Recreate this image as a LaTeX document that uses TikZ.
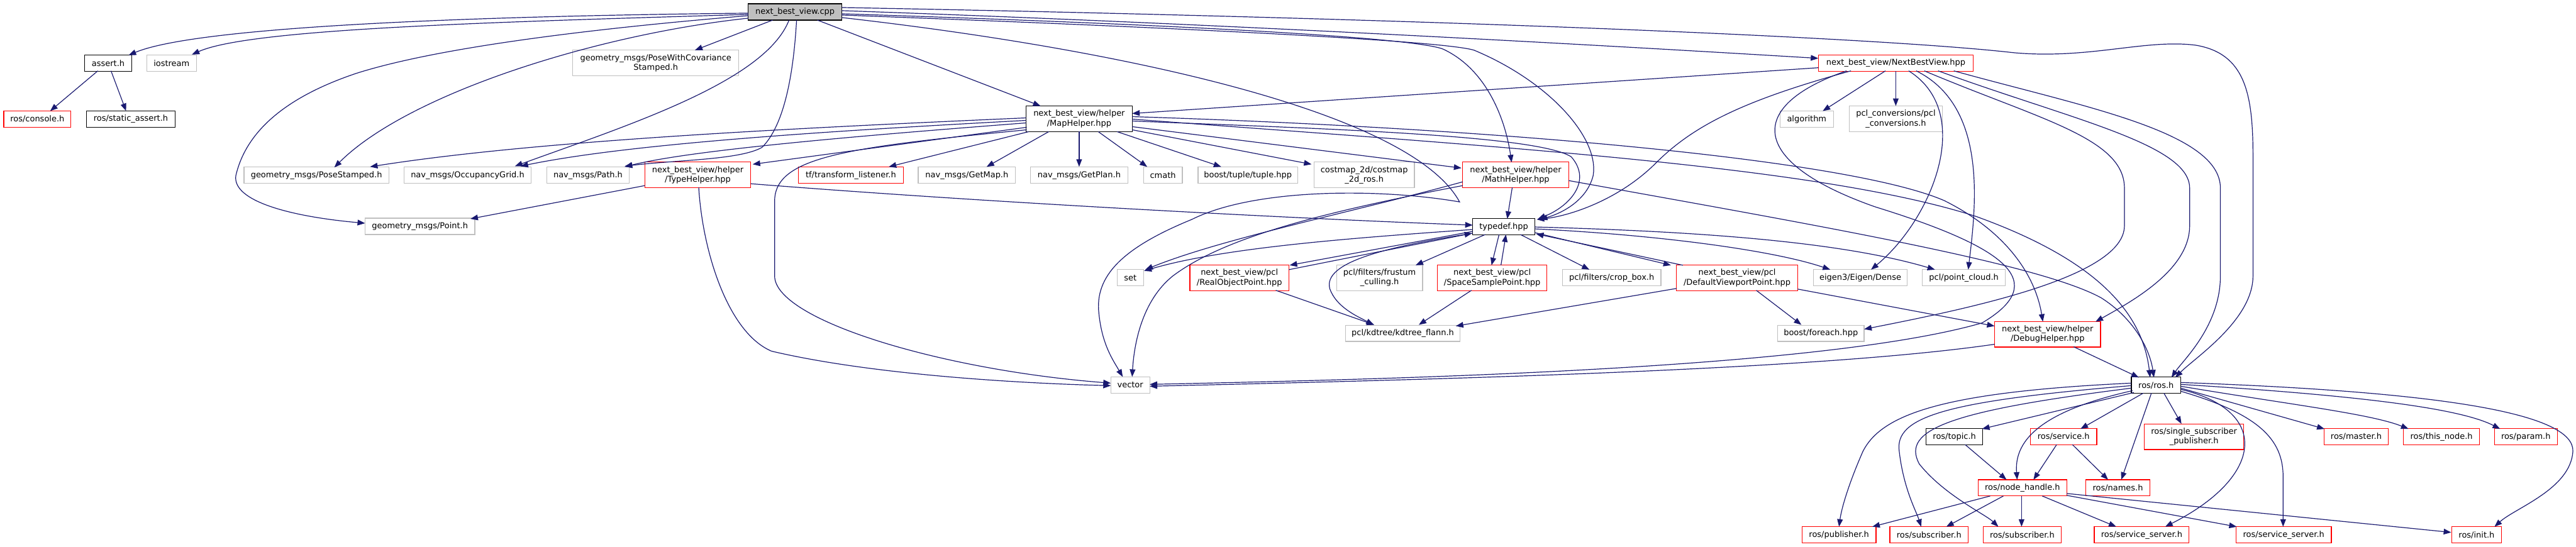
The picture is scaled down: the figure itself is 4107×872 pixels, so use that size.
\documentclass[tikz,border=0pt]{standalone}
\usepackage{fontspec}
\setmainfont{DejaVu Sans}
\usetikzlibrary{arrows.meta,calc}
\definecolor{edgec}{HTML}{191970}
\definecolor{grayb}{HTML}{BFBFBF}
\definecolor{redb}{HTML}{FF0000}
\definecolor{rootfill}{HTML}{BFBFBF}
\newcommand\nodefont{\fontsize{13}{15.3}\selectfont}
\tikzset{
  box/.style={draw, line width=1.2pt, inner sep=0pt, minimum height=26pt, font=\nodefont, align=center, fill=white},
  gbox/.style={box, draw=grayb},
  rbox/.style={box, draw=redb},
  kbox/.style={box, draw=black},
  rootbox/.style={box, draw=black, fill=rootfill},
  two/.style={minimum height=41pt},
  e/.style={draw=edgec, line width=1.2pt, -{Triangle[length=12pt,width=9pt]}},
}
\begin{document}
\begin{tikzpicture}[x=1pt,y=-1pt]
\useasboundingbox (0,0) rectangle (4107,872);
% nodes
\node[rootbox, minimum width=149pt] (root) at (1267.5,19) {next\_best\_view.cpp};
\node[kbox, minimum width=75pt] (assert) at (172.5,100.5) {assert.h};
\node[gbox, minimum width=79pt] (iostream) at (273.5,100.5) {iostream};
\node[gbox, two, minimum width=265pt] (pwc) at (1045.5,100.5) {geometry\_msgs/PoseWithCovariance\\Stamped.h};
\node[rbox, minimum width=107pt] (console) at (59.5,190) {ros/console.h};
\node[kbox, minimum width=141pt] (sassert) at (208.5,190) {ros/static\_assert.h};
\node[gbox, minimum width=231pt] (posest) at (504.5,279.5) {geometry\_msgs/PoseStamped.h};
\node[gbox, minimum width=203pt] (occ) at (745.5,279.5) {nav\_msgs/OccupancyGrid.h};
\node[gbox, minimum width=131pt] (path) at (937.5,279.5) {nav\_msgs/Path.h};
\node[rbox, two, minimum width=169pt] (typeh) at (1112.5,279) {next\_best\_view/helper\\/TypeHelper.hpp};
\node[rbox, minimum width=167pt] (tfl) at (1356.5,279.5) {tf/transform\_listener.h};
\node[gbox, minimum width=155pt] (getmap) at (1541.5,279.5) {nav\_msgs/GetMap.h};
\node[gbox, minimum width=155pt] (getplan) at (1720.5,279.5) {nav\_msgs/GetPlan.h};
\node[gbox, minimum width=62pt] (cmath) at (1854,279.5) {cmath};
\node[gbox, minimum width=159pt] (tuple) at (1989.5,279.5) {boost/tuple/tuple.hpp};
\node[gbox, two, minimum width=160pt] (costmap) at (2175,279) {costmap\_2d/costmap\\\_2d\_ros.h};
\node[rbox, two, minimum width=169pt] (mathh) at (2416.5,279) {next\_best\_view/helper\\/MathHelper.hpp};
\node[gbox, minimum width=175pt] (point) at (669.5,361) {geometry\_msgs/Point.h};
\node[kbox, two, minimum width=169pt] (maph) at (1720.5,189.5) {next\_best\_view/helper\\/MapHelper.hpp};
\node[rbox, minimum width=247pt] (nbv) at (3022.5,100.5) {next\_best\_view/NextBestView.hpp};
\node[gbox, minimum width=85pt] (algo) at (2880.5,190) {algorithm};
\node[gbox, two, minimum width=149pt] (pclconv) at (3022.5,189.5) {pcl\_conversions/pcl\\\_conversions.h};
\node[kbox, minimum width=99pt] (typedef) at (2397.5,361.5) {typedef.hpp};
\node[gbox, minimum width=42pt] (set) at (1802,443) {set};
\node[rbox, two, minimum width=158pt] (rop) at (1976,443) {next\_best\_view/pcl\\/RealObjectPoint.hpp};
\node[gbox, two, minimum width=137pt] (frustum) at (2199.5,443) {pcl/filters/frustum\\\_culling.h};
\node[rbox, two, minimum width=174pt] (ssp) at (2379,443) {next\_best\_view/pcl\\/SpaceSamplePoint.hpp};
\node[gbox, minimum width=157pt] (crop) at (2569.5,443) {pcl/filters/crop\_box.h};
\node[rbox, two, minimum width=193pt] (dvp) at (2769.5,443) {next\_best\_view/pcl\\/DefaultViewportPoint.hpp};
\node[gbox, minimum width=150pt] (eigen) at (2966,443) {eigen3/Eigen/Dense};
\node[gbox, minimum width=132pt] (pcloud) at (3131,443) {pcl/point\_cloud.h};
\node[gbox, minimum width=183pt] (kdtree) at (2236.5,531.5) {pcl/kdtree/kdtree\_flann.h};
\node[gbox, minimum width=138pt] (foreach) at (2903,531.5) {boost/foreach.hpp};
\node[rbox, two, minimum width=169pt] (debugh) at (3264.5,533) {next\_best\_view/helper\\/DebugHelper.hpp};
\node[kbox, minimum width=79pt] (ros) at (3437.5,614.5) {ros/ros.h};
\node[gbox, minimum width=62pt] (vector) at (1802,614) {vector};
\node[kbox, minimum width=90pt] (topic) at (3116,696.5) {ros/topic.h};
\node[rbox, minimum width=106pt] (service) at (3290,696.5) {ros/service.h};
\node[rbox, two, minimum width=158pt] (ssub) at (3498,696.5) {ros/single\_subscriber\\\_publisher.h};
\node[rbox, minimum width=103pt] (master) at (3756.5,696.5) {ros/master.h};
\node[rbox, minimum width=121pt] (thisnode) at (3892.5,696.5) {ros/this\_node.h};
\node[rbox, minimum width=100pt] (param) at (4027,696.5) {ros/param.h};
\node[rbox, minimum width=141pt] (nh) at (3224.5,778) {ros/node\_handle.h};
\node[rbox, minimum width=103pt] (names) at (3376.5,778) {ros/names.h};
\node[rbox, minimum width=118pt] (pub) at (2932,853) {ros/publisher.h};
\node[rbox, minimum width=125pt] (sub1) at (3075.5,853) {ros/subscriber.h};
\node[rbox, minimum width=124pt] (sub2) at (3224,853) {ros/subscriber.h};
\node[rbox, minimum width=151pt] (ss1) at (3414.5,853) {ros/service\_server.h};
\node[rbox, minimum width=152pt] (ss2) at (3641,853) {ros/service\_server.h};
\node[rbox, minimum width=79pt] (init) at (3948.5,853) {ros/init.h};

% root edges
\draw[e] ($(root)+(-74.5,2)$) .. controls (800,25) and (320,40) .. ($(assert)+(32.5,-12.5)$);
\draw[e] ($(root)+(-74.5,4)$) .. controls (800,35) and (400,45) .. ($(iostream)+(32.5,-13.5)$);
\draw[e] ($(root)+(-35.5,13)$) -- ($(pwc)+(62.5,-20.5)$);
\draw[e] ($(root)+(-74.5,6)$) .. controls (950,45) and (700,75) .. (568,117) .. controls (440,160) and (390,220) .. (376,280) .. controls (370,320) and (460,345) .. ($(point)+(-87.5,-5)$);
\draw[e] ($(root)+(-74.5,10)$) .. controls (950,55) and (650,150) .. ($(posest)+(28.5,-12.5)$);
\draw[e] ($(root)+(-9.5,13)$) .. controls (1220,130) and (1000,200) .. ($(occ)+(75.5,-14.5)$);
\draw[e] ($(root)+(2.5,13)$) .. controls (1265,120) and (1250,200) .. (1215,235) .. controls (1180,255) and (1080,255) .. ($(path)+(58.5,-14.5)$);
\draw[e] ($(root)+(35.5,13)$) -- ($(maph)+(-61.5,-20.5)$);
\draw[e] ($(root)+(74.5,3)$) .. controls (1900,40) and (2250,60) .. (2300,78) .. controls (2370,110) and (2400,190) .. ($(mathh)+(-6.5,-20)$);
\draw[e] ($(root)+(74.5,5)$) .. controls (1900,45) and (2300,65) .. (2350,80) .. controls (2470,130) and (2550,220) .. (2540,280) .. controls (2530,320) and (2490,340) .. ($(typedef)+(57.5,-11.5)$);
\draw[e] ($(root)+(74.5,-2)$) .. controls (2000,40) and (2600,75) .. ($(nbv)+(-123.5,-7.5)$);
\draw[e] ($(root)+(74.5,-7)$) .. controls (2300,30) and (3000,60) .. (3210,84) .. controls (3330,95) and (3420,62) .. (3500,72) .. controls (3580,85) and (3592,150) .. (3592,250) -- (3592,440) .. controls (3592,510) and (3500,570) .. ($(ros)+(30.5,-12.5)$);
\draw[e] ($(root)+(74.5,9)$) .. controls (1800,80) and (2250,180) .. (2327,322) .. controls (2200,300) and (2000,300) .. (1900,350) .. controls (1790,395) and (1745,440) .. (1752,500) .. controls (1757,550) and (1775,575) .. ($(vector)+(-12,-13)$);

% assert
\draw[e] ($(assert)+(-16.5,12.5)$) -- ($(console)+(20.5,-13)$);
\draw[e] ($(assert)+(4.5,12.5)$) -- ($(sassert)+(-7.5,-13)$);

% MapHelper edges
\draw[e] ($(maph)+(-84.5,-1.5)$) .. controls (1250,205) and (850,225) .. ($(posest)+(85.5,-13.5)$);
\draw[e] ($(maph)+(-84.5,2.5)$) .. controls (1300,210) and (1000,230) .. ($(occ)+(84.5,-14.5)$);
\draw[e] ($(maph)+(-84.5,6.5)$) .. controls (1350,218) and (1100,240) .. ($(path)+(58.5,-13.5)$);
\draw[e] ($(maph)+(-83.5,13.5)$) -- ($(typeh)+(87.5,-17)$);
\draw[e] ($(maph)+(-83.5,17.5)$) .. controls (1350,235) and (1236,250) .. (1235,320) -- (1235,440) .. controls (1235,510) and (1500,590) .. ($(vector)+(-31,-3)$);
\draw[e] ($(maph)+(-80.5,20.5)$) -- ($(tfl)+(60.5,-13.5)$);
\draw[e] ($(maph)+(-48.5,20.5)$) -- ($(getmap)+(31.5,-13.5)$);
\draw[e] ($(maph)+(0,20.5)$) -- ($(getplan)+(0,-13.5)$);
\draw[e] ($(maph)+(30.5,20.5)$) -- ($(cmath)+(-25,-13.5)$);
\draw[e] ($(maph)+(60.5,20.5)$) -- ($(tuple)+(-42.5,-13.5)$);
\draw[e] ($(maph)+(84.5,17.5)$) -- ($(costmap)+(-84,-17)$);
\draw[e] ($(maph)+(84.5,12.5)$) -- ($(mathh)+(-86.5,-11)$);
\draw[e] ($(maph)+(84.5,3.5)$) .. controls (2100,205) and (2450,215) .. (2505,250) .. controls (2540,290) and (2500,330) .. ($(typedef)+(54.5,-12.5)$);
\draw[e] ($(maph)+(84.5,-3.5)$) .. controls (2400,205) and (2950,255) .. (3100,320) .. controls (3200,370) and (3245,440) .. ($(debugh)+(-7.5,-20)$);
\draw[e] ($(maph)+(84.5,0.5)$) .. controls (2400,235) and (2900,265) .. (3150,345) .. controls (3330,410) and (3415,490) .. ($(ros)+(-9.5,-12.5)$);

% TypeHelper edges
\draw[e] ($(typeh)+(-84.5,17)$) -- ($(point)+(80.5,-12)$);
\draw[e] ($(typeh)+(84.5,14)$) .. controls (1600,325) and (2100,350) .. ($(typedef)+(-49.5,-2.5)$);
\draw[e] ($(typeh)+(1.5,20)$) .. controls (1120,400) and (1160,530) .. (1230,560) .. controls (1400,600) and (1650,612) .. ($(vector)+(-31,1)$);

% MathHelper edges
\draw[e] ($(mathh)+(-5.5,20)$) -- ($(typedef)+(5.5,-12.5)$);
\draw[e] ($(mathh)+(-84.5,11)$) .. controls (2150,340) and (1950,380) .. ($(set)+(24,-13)$);
\draw[e] ($(mathh)+(-84.5,17)$) .. controls (2100,340) and (1950,380) .. (1870,440) .. controls (1820,480) and (1808,550) .. ($(vector)+(3,-13)$);
\draw[e] ($(mathh)+(84.5,9)$) .. controls (2900,360) and (3250,420) .. (3350,475) .. controls (3405,510) and (3428,560) .. ($(ros)+(-3.5,-12.5)$);

% typedef edges
\draw[e] ($(typedef)+(-49.5,4.5)$) .. controls (2150,380) and (1950,395) .. ($(set)+(22,-11)$);
\draw[e] ($(typedef)+(-49.5,7.5)$) -- ($(rop)+(80,-20)$);
\draw[e] ($(rop)+(79,-13)$) -- ($(typedef)+(-50.5,10.5)$);
\draw[e] ($(typedef)+(-29.5,12.5)$) -- ($(frustum)+(57.5,-20)$);
\draw[e] ($(typedef)+(-7.5,12.5)$) -- ($(ssp)+(-1,-20)$);
\draw[e] ($(ssp)+(14,-20)$) -- ($(typedef)+(3.5,12.5)$);
\draw[e] ($(typedef)+(26.5,12.5)$) -- ($(crop)+(-35.5,-13)$);
\draw[e] ($(typedef)+(49.5,9.5)$) -- ($(dvp)+(-105.5,-20)$);
\draw[e] ($(dvp)+(-86.5,-20)$) -- ($(typedef)+(51.5,11.5)$);
\draw[e] ($(typedef)+(49.5,3.5)$) .. controls (2650,375) and (2830,400) .. ($(eigen)+(-48,-13)$);
\draw[e] ($(typedef)+(49.5,0.5)$) .. controls (2750,370) and (2950,390) .. ($(pcloud)+(-46,-13)$);
\draw[e] ($(typedef)+(-49.5,10.5)$) .. controls (2200,395) and (2110,420) .. (2120,460) .. controls (2130,490) and (2165,505) .. ($(kdtree)+(-46.5,-13.5)$);

% pcl points
\draw[e] ($(rop)+(58,20)$) -- ($(kdtree)+(-45.5,-13.5)$);
\draw[e] ($(ssp)+(-33,20)$) -- ($(kdtree)+(25.5,-13.5)$);
\draw[e] ($(dvp)+(-96.5,17)$) -- ($(kdtree)+(84.5,-11.5)$);
\draw[e] ($(dvp)+(30.5,20)$) -- ($(foreach)+(-31,-13.5)$);
\draw[e] ($(dvp)+(96.5,18)$) -- ($(debugh)+(-84.5,-13)$);

% NextBestView edges
\draw[e] ($(nbv)+(-123.5,7.5)$) -- ($(maph)+(84.5,-8.5)$);
\draw[e] ($(nbv)+(-71.5,12.5)$) .. controls (2780,160) and (2700,200) .. (2640,260) .. controls (2580,320) and (2500,345) .. ($(typedef)+(52.5,-11.5)$);
\draw[e] ($(nbv)+(-16.5,12.5)$) -- ($(algo)+(25.5,-13)$);
\draw[e] ($(nbv)+(0,12.5)$) -- ($(pclconv)+(0,-20.5)$);
\draw[e] ($(nbv)+(20.5,12.5)$) .. controls (3150,180) and (3080,350) .. ($(eigen)+(17,-13)$);
\draw[e] ($(nbv)+(32.5,12.5)$) .. controls (3170,170) and (3150,330) .. ($(pcloud)+(7,-13)$);
\draw[e] ($(nbv)+(45.5,12.5)$) .. controls (3250,190) and (3387,220) .. (3387,300) -- (3387,360) .. controls (3387,440) and (3150,490) .. ($(foreach)+(69,-6.5)$);
\draw[e] ($(nbv)+(67.5,12.5)$) .. controls (3300,190) and (3491,230) .. (3491,300) -- (3491,360) .. controls (3491,430) and (3400,480) .. ($(debugh)+(76.5,-20)$);
\draw[e] ($(nbv)+(92.5,12.5)$) .. controls (3320,170) and (3540,210) .. (3540,300) -- (3540,440) .. controls (3540,520) and (3480,575) .. ($(ros)+(24.5,-12.5)$);
\draw[e] ($(nbv)+(-78.5,12.5)$) .. controls (2780,170) and (2790,260) .. (2990,330) .. controls (3200,395) and (3270,450) .. (3160,515) .. controls (2900,590) and (2200,605) .. ($(vector)+(31,-1)$);

% DebugHelper
\draw[e] ($(debugh)+(41.5,20)$) -- ($(ros)+(-27.5,-12.5)$);
\draw[e] ($(debugh)+(-84.5,16)$) .. controls (2900,590) and (2300,605) .. ($(vector)+(31,2)$);

% ros/ros.h fan
\draw[e] ($(ros)+(-39.5,-3.5)$) .. controls (3100,625) and (3000,660) .. (2970,720) .. controls (2948,770) and (2936,810) .. ($(pub)+(0,-13)$);
\draw[e] ($(ros)+(-39.5,0.5)$) .. controls (3100,640) and (3020,665) .. (3028,720) .. controls (3035,780) and (3055,815) .. ($(sub1)+(-12.5,-13)$);
\draw[e] ($(ros)+(-39.5,4.5)$) .. controls (3110,655) and (3030,685) .. (3060,740) .. controls (3100,790) and (3165,820) .. ($(sub2)+(-38,-13)$);
\draw[e] ($(ros)+(-35.5,11.5)$) -- ($(topic)+(44,-12.5)$);
\draw[e] ($(ros)+(-37.5,8.5)$) .. controls (3280,650) and (3210,690) .. ($(nh)+(-8.5,-13)$);
\draw[e] ($(ros)+(-20.5,12.5)$) -- ($(service)+(27,-12.5)$);
\draw[e] ($(ros)+(-7.5,12.5)$) -- ($(names)+(5.5,-13)$);
\draw[e] ($(ros)+(12.5,12.5)$) -- ($(ssub)+(-20,-20.5)$);
\draw[e] ($(ros)+(39.5,6.5)$) .. controls (3620,655) and (3610,760) .. ($(ss1)+(37.5,-13)$);
\draw[e] ($(ros)+(39.5,9.5)$) .. controls (3600,660) and (3640,700) .. (3640,760) -- ($(ss2)+(-1,-13)$);
\draw[e] ($(ros)+(39.5,4.5)$) -- ($(master)+(-50.5,-12.5)$);
\draw[e] ($(ros)+(39.5,1.5)$) .. controls (3650,645) and (3780,660) .. ($(thisnode)+(-52.5,-12.5)$);
\draw[e] ($(ros)+(39.5,-1.5)$) .. controls (3750,630) and (3920,650) .. ($(param)+(-41,-12.5)$);
\draw[e] ($(ros)+(39.5,-4.5)$) .. controls (3900,625) and (4105,660) .. (4102,720) .. controls (4098,780) and (4010,810) .. ($(init)+(28.5,-13)$);
\draw[e] ($(topic)+(17,12.5)$) -- ($(nh)+(-25.5,-13)$);
\draw[e] ($(service)+(-11,12.5)$) -- ($(nh)+(17.5,-13)$);
\draw[e] ($(service)+(14,12.5)$) -- ($(names)+(-15.5,-13)$);
\draw[e] ($(nh)+(-51.5,13)$) -- ($(pub)+(53,-13)$);
\draw[e] ($(nh)+(-30.5,13)$) -- ($(sub1)+(27.5,-13)$);
\draw[e] ($(nh)+(-1.5,13)$) -- ($(sub2)+(-1,-13)$);
\draw[e] ($(nh)+(31.5,13)$) -- ($(ss1)+(-40.5,-13)$);
\draw[e] ($(nh)+(70.5,12)$) -- ($(ss2)+(-75,-13)$);
\draw[e] ($(nh)+(70.5,9)$) -- ($(init)+(-40.5,-4)$);
\end{tikzpicture}
\end{document}
